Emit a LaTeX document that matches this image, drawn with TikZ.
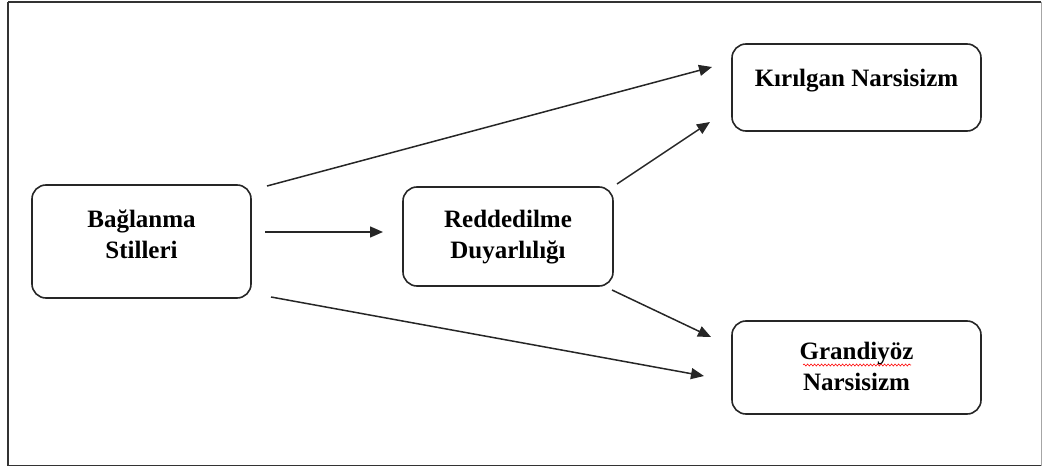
\documentclass[tikz,border=0pt]{standalone}
\usepackage{fontspec}
\setmainfont{Liberation Serif}
\usetikzlibrary{arrows.meta,decorations.pathmorphing}
\tikzset{
  box/.style={draw=black!85, line width=1.6pt, rounded corners=14pt, inner sep=0pt},
  lbl/.style={font=\bfseries\fontsize{25}{30.5}\selectfont, align=center, anchor=base, inner sep=0pt, text=black},
  conn/.style={draw=black!85, line width=1.5pt, -{Triangle[length=13pt,width=11pt]}},
  frame/.style={draw=black!80, line width=1.6pt}
}
\begin{document}
\begin{tikzpicture}[x=1pt,y=-1pt]
\useasboundingbox (0,0) rectangle (1042,468);
\draw[frame] (8,2) -- (1041,2);
\draw[frame] (8,2) -- (8,465.5) -- (1041,465.5);
\draw[draw=black!35, line width=1pt] (1041.5,2) -- (1041.5,465.5);
% boxes
\node[box, minimum width=219pt, minimum height=113pt] (bag) at (141.5,241.5) {};
\node[box, minimum width=210pt, minimum height=99pt] (red) at (508,236.5) {};
\node[box, minimum width=249pt, minimum height=87pt] (kir) at (856.5,87.5) {};
\node[box, minimum width=249pt, minimum height=93pt] (gra) at (856.5,367.5) {};
% texts
\node[lbl] (bagT) at (141.5,258) {Bağlanma\\Stilleri};
\node[lbl] (redT) at (508,258) {Reddedilme\\Duyarlılığı};
\node[lbl] (kirT) at (856.5,87) {Kırılgan Narsisizm};
\node[lbl] (graT) at (856.5,390) {Grandiyöz\\Narsisizm};
% spell-check underline
\coordinate (wl) at (803,365);
\coordinate (wr) at (911,365);
\draw[red, line width=0.6pt, decorate, decoration={snake, amplitude=1pt, segment length=3.5pt}] (wl) -- (wr);
% connector ends
\coordinate (s1) at (267,186);
\coordinate (e1) at (712,67);
\coordinate (s2) at (265,232);
\coordinate (e2) at (383,232);
\coordinate (s3) at (271,297);
\coordinate (e3) at (704,376);
\coordinate (s4) at (617,184);
\coordinate (e4) at (710,122);
\coordinate (s5) at (612,290);
\coordinate (e5) at (711,337);
\draw[conn] (s1) -- (e1);
\draw[conn] (s2) -- (e2);
\draw[conn] (s3) -- (e3);
\draw[conn] (s4) -- (e4);
\draw[conn] (s5) -- (e5);
\end{tikzpicture}
\end{document}
